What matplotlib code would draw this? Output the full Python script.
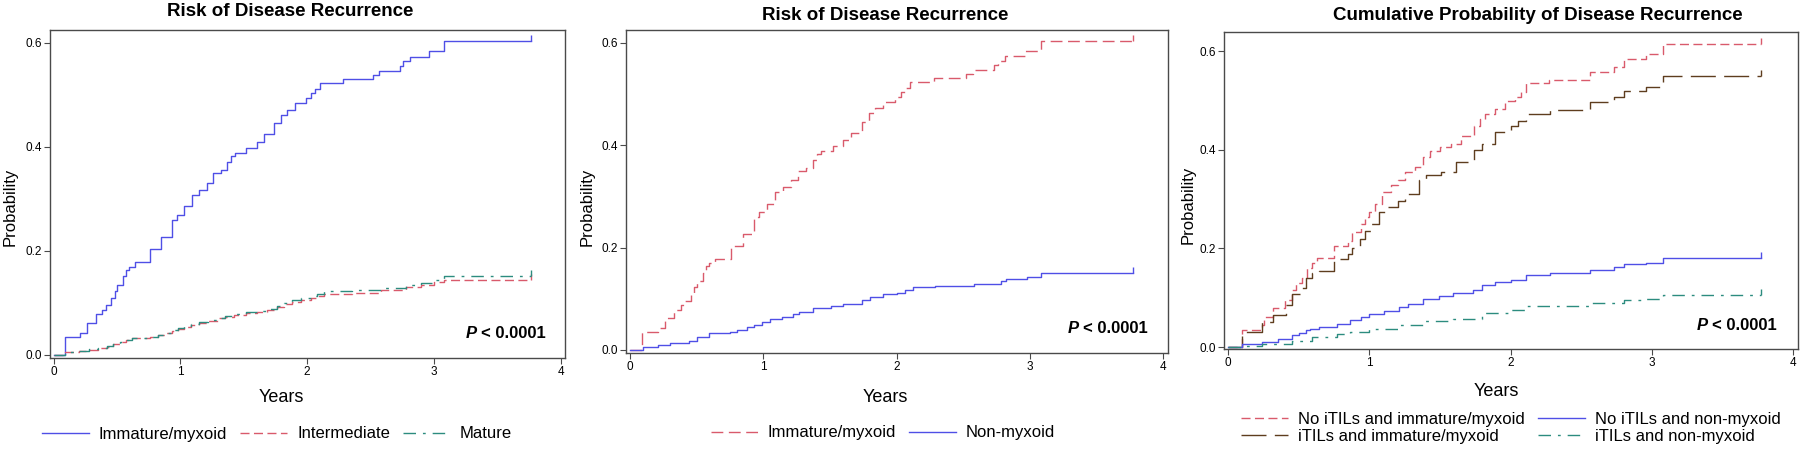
import matplotlib
matplotlib.use("Agg")
import matplotlib.pyplot as plt
from matplotlib.path import Path

plt.rcParams['font.family'] = ['Liberation Sans', 'DejaVu Sans']

# ---- datos (tiempo en años, probabilidad acumulada) ----
inm_t = [0, 0.09, 0.21, 0.26, 0.33, 0.38, 0.41, 0.455, 0.48, 0.5, 0.55, 0.57, 0.59, 0.64,
         0.76, 0.85, 0.93, 0.97, 1.03, 1.09, 1.15, 1.21, 1.26, 1.32, 1.37, 1.4, 1.43, 1.52,
         1.6, 1.66, 1.74, 1.79, 1.84, 1.9, 1.99, 2.03, 2.06, 2.1, 2.28, 2.52, 2.57, 2.73,
         2.76, 2.81, 2.96, 3.08, 3.77]
inm_p = [0, 0.035, 0.042, 0.062, 0.078, 0.087, 0.095, 0.11, 0.122, 0.135, 0.151, 0.164, 0.17,
         0.178, 0.203, 0.227, 0.26, 0.27, 0.286, 0.308, 0.318, 0.331, 0.35, 0.356, 0.372, 0.382,
         0.388, 0.398, 0.41, 0.424, 0.446, 0.462, 0.472, 0.485, 0.494, 0.504, 0.512, 0.524,
         0.531, 0.539, 0.547, 0.556, 0.565, 0.574, 0.584, 0.603, 0.603]

int_t = [0, 0.09, 0.2, 0.28, 0.35, 0.42, 0.47, 0.52, 0.57, 0.62, 0.76, 0.82, 0.88, 0.93, 0.98,
         1.03, 1.08, 1.15, 1.22, 1.3, 1.35, 1.42, 1.52, 1.6, 1.68, 1.76, 1.82, 1.88, 1.95, 2.03,
         2.08, 2.13, 2.35, 2.58, 2.78, 2.9, 3.0, 3.08, 3.77]
int_p = [0, 0.005, 0.007, 0.010, 0.013, 0.016, 0.020, 0.024, 0.028, 0.032, 0.034, 0.038, 0.042,
         0.046, 0.050, 0.054, 0.058, 0.062, 0.066, 0.070, 0.073, 0.077, 0.080, 0.083, 0.087,
         0.092, 0.098, 0.102, 0.106, 0.110, 0.114, 0.118, 0.120, 0.124, 0.130, 0.135, 0.140,
         0.145, 0.145]
mad_p = [0, 0.005, 0.008, 0.011, 0.014, 0.017, 0.021, 0.025, 0.029, 0.033, 0.035, 0.039, 0.043,
         0.047, 0.051, 0.055, 0.059, 0.063, 0.067, 0.071, 0.074, 0.078, 0.082, 0.085, 0.089,
         0.094, 0.100, 0.105, 0.109, 0.113, 0.117, 0.122, 0.124, 0.128, 0.134, 0.139, 0.144,
         0.152, 0.152]

nomix_t = [0, 0.1, 0.21, 0.3, 0.44, 0.5, 0.59, 0.75, 0.8, 0.88, 0.93, 0.99, 1.05, 1.14, 1.22,
           1.27, 1.37, 1.51, 1.6, 1.74, 1.8, 1.9, 2.0, 2.06, 2.12, 2.29, 2.58, 2.78, 2.82, 2.98,
           3.08, 3.77]
nomix_p = [0, 0.0065, 0.01, 0.013, 0.018, 0.025, 0.033, 0.036, 0.039, 0.044, 0.049, 0.055, 0.06,
           0.065, 0.07, 0.074, 0.082, 0.086, 0.09, 0.098, 0.104, 0.11, 0.112, 0.117, 0.123, 0.124,
           0.129, 0.134, 0.138, 0.142, 0.15, 0.15]

# panel 3
a_t = [0, 0.098, 0.24, 0.25, 0.32, 0.4, 0.455, 0.48, 0.52, 0.56, 0.59, 0.63, 0.75, 0.85, 0.875,
       0.94, 0.97, 1.0, 1.04, 1.09, 1.15, 1.2, 1.25, 1.32, 1.38, 1.43, 1.5, 1.58, 1.65, 1.74,
       1.78, 1.82, 1.89, 1.96, 2.03, 2.07, 2.11, 2.27, 2.56, 2.73, 2.8, 2.96, 3.08, 3.77]
a_p = [0, 0.035, 0.044, 0.06, 0.08, 0.095, 0.115, 0.13, 0.14, 0.16, 0.17, 0.18, 0.205, 0.216,
       0.233, 0.25, 0.263, 0.274, 0.29, 0.314, 0.328, 0.338, 0.355, 0.365, 0.385, 0.397, 0.405,
       0.412, 0.429, 0.449, 0.463, 0.473, 0.483, 0.5, 0.507, 0.517, 0.535, 0.541, 0.557, 0.568,
       0.584, 0.595, 0.615, 0.615]
b_t = [0, 0.098, 0.24, 0.32, 0.41, 0.455, 0.51, 0.55, 0.59, 0.645, 0.75, 0.85, 0.88, 0.93, 0.97,
       1.01, 1.065, 1.13, 1.2, 1.255, 1.35, 1.4, 1.51, 1.61, 1.74, 1.8, 1.89, 2.0, 2.05, 2.11,
       2.28, 2.56, 2.73, 2.8, 2.96, 3.08, 3.77]
b_p = [0, 0.03, 0.05, 0.065, 0.085, 0.108, 0.12, 0.14, 0.15, 0.155, 0.178, 0.189, 0.2, 0.22,
       0.236, 0.25, 0.274, 0.284, 0.297, 0.311, 0.338, 0.348, 0.355, 0.375, 0.399, 0.412, 0.436,
       0.449, 0.459, 0.472, 0.48, 0.497, 0.507, 0.52, 0.528, 0.549, 0.549]
c_t = [0, 0.098, 0.24, 0.35, 0.455, 0.5, 0.55, 0.58, 0.645, 0.77, 0.86, 0.94, 1.0, 1.1, 1.21,
       1.27, 1.38, 1.49, 1.59, 1.73, 1.8, 1.89, 2.0, 2.11, 2.28, 2.56, 2.73, 2.8, 2.96, 3.08, 3.77]
c_p = [0, 0.007, 0.01, 0.017, 0.024, 0.028, 0.034, 0.037, 0.04, 0.047, 0.054, 0.061, 0.068,
       0.074, 0.081, 0.088, 0.098, 0.103, 0.109, 0.115, 0.125, 0.132, 0.136, 0.147, 0.15, 0.157,
       0.162, 0.168, 0.171, 0.18, 0.18]
d_t = [0, 0.098, 0.24, 0.455, 0.59, 0.77, 0.86, 1.0, 1.21, 1.38, 1.59, 1.8, 2.0, 2.11, 2.56,
       2.8, 2.96, 3.08, 3.77]
d_p = [0, 0.003, 0.007, 0.012, 0.02, 0.027, 0.03, 0.037, 0.044, 0.053, 0.057, 0.07, 0.076,
       0.084, 0.089, 0.095, 0.097, 0.105, 0.105]

AZUL = '#4F4FE6'
ROJO = '#D95A6B'
VERDE = '#2C8C7F'
CAFE = '#5E3D1E'

corta = (0, (6.5, 3.2))
media = (0, (8.5, 4))
larga = (0, (18, 6))
punto = (0, (9, 5, 2, 5))

# marca de censura: trazo vertical hacia arriba
censura = Path([(0, 0), (0, 1)], [Path.MOVETO, Path.LINETO])


def curva(ax, t, p, color, ls, label):
    ax.step(t, p, where='post', color=color, lw=1.0, ls=ls, label=label)
    ax.plot(t[-1], p[-1], marker=censura, ms=9, mew=1.0, color=color, ls='none')


def estilo(ax, ylim):
    ax.set_xlim(-0.03, 4.035)
    ax.set_ylim(*ylim)
    ax.set_xticks([0, 1, 2, 3, 4])
    ax.set_yticks([0.0, 0.2, 0.4, 0.6])
    ax.set_yticklabels(['0.0', '0.2', '0.4', '0.6'])
    for s in ax.spines.values():
        s.set_color('#4a4a4a')
        s.set_linewidth(1.0)
    ax.tick_params(length=4, width=0.8, color='#4a4a4a', labelsize=8.5, pad=2)
    for lab in ax.get_xticklabels() + ax.get_yticklabels():
        lab.set_family(['Liberation Sans Narrow', 'Liberation Sans'])
    txt = ax.text(0.963, 0.075, '< 0.0001', transform=ax.transAxes, ha='right',
                  va='center', fontsize=12, fontweight='bold')
    ax.annotate('P ', xy=(0, 0.5), xycoords=txt, ha='right', va='center',
                fontsize=12, fontweight='bold', style='italic')


fig = plt.figure(figsize=(18, 4.49), dpi=100)
H = 449.0
W = 1800.0

ax1 = fig.add_axes([50 / W, 1 - 358 / H, 515 / W, 328 / H])
ax2 = fig.add_axes([626 / W, 1 - 353 / H, 542 / W, 323 / H])
ax3 = fig.add_axes([1224 / W, 1 - 349 / H, 574 / W, 317 / H])

curva(ax1, inm_t, inm_p, AZUL, '-', 'Immature/myxoid')
curva(ax1, int_t, int_p, ROJO, corta, 'Intermediate')
curva(ax1, int_t, mad_p, VERDE, punto, 'Mature')
estilo(ax1, (-0.006, 0.625))

curva(ax2, inm_t, inm_p, ROJO, media, 'Immature/myxoid')
curva(ax2, nomix_t, nomix_p, AZUL, '-', 'Non-myxoid')
estilo(ax2, (-0.006, 0.625))

curva(ax3, a_t, a_p, ROJO, corta, 'No iTILs and immature/myxoid')
curva(ax3, b_t, b_p, CAFE, larga, 'iTILs and immature/myxoid')
curva(ax3, c_t, c_p, AZUL, '-', 'No iTILs and non-myxoid')
curva(ax3, d_t, d_p, VERDE, punto, 'iTILs and non-myxoid')
estilo(ax3, (-0.004, 0.639))

# titulos y etiquetas
fig.text(290 / W, 1 - 11 / H, 'Risk of Disease Recurrence', ha='center', va='center',
         fontsize=13.5, fontweight='bold')
fig.text(885 / W, 1 - 16 / H, 'Risk of Disease Recurrence', ha='center', va='center',
         fontsize=13.5, fontweight='bold')
fig.text(1538 / W, 1 - 16 / H, 'Cumulative Probability of Disease Recurrence', ha='center',
         va='center', fontsize=13.5, fontweight='bold')

for x, y in [(281, 397), (885, 397), (1496, 391)]:
    fig.text(x / W, 1 - y / H, 'Years', ha='center', va='center', fontsize=13)
for x, y in [(10, 207), (587, 207), (1188, 205)]:
    fig.text(x / W, 1 - y / H, 'Probability', ha='center', va='center', fontsize=12,
             rotation=90)

# leyendas
ley = dict(frameon=False, fontsize=12, handlelength=2.8, handletextpad=0.6,
           columnspacing=0.8, borderaxespad=0)
h, l = ax1.get_legend_handles_labels()
fig.legend(h, l, loc='center', bbox_to_anchor=(277 / W, 1 - 434 / H), ncol=3, **ley)
h, l = ax2.get_legend_handles_labels()
fig.legend(h, l, loc='center', bbox_to_anchor=(883 / W, 1 - 433 / H), ncol=2, **ley)
h, l = ax3.get_legend_handles_labels()
fig.legend(h, l, loc='center', bbox_to_anchor=(1511 / W, 1 - 428 / H), ncol=2,
           labelspacing=0.15, **ley)

fig.savefig('out.png', dpi=100)
